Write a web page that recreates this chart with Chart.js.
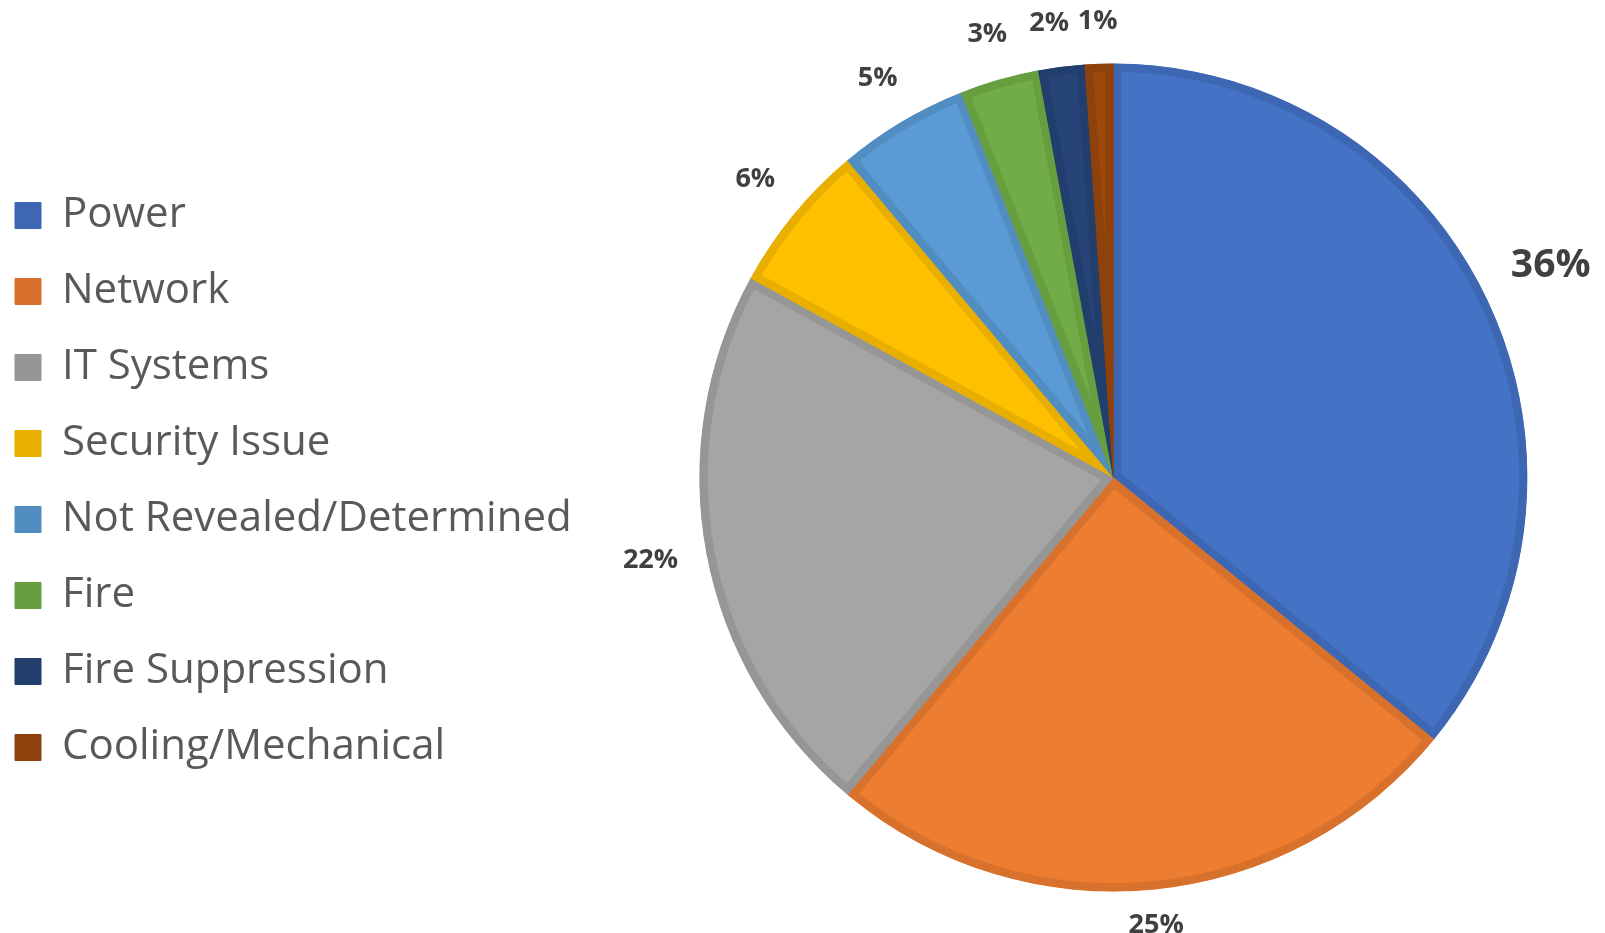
<!DOCTYPE html>
<html>
<head>
<meta charset="utf-8">
<title>Outage causes</title>
<script src="https://cdn.jsdelivr.net/npm/chart.js@4.4.0/dist/chart.umd.min.js"></script>
<style>
  html, body { margin: 0; padding: 0; background: #fff; }
  #chart { display: block; }
</style>
</head>
<body>
<canvas id="chart" width="1605" height="933"></canvas>
<script>
'use strict';

// share of outages by cause (labels are rounded)
const categories = ['Power', 'Network', 'IT Systems', 'Security Issue',
  'Not Revealed/Determined', 'Fire', 'Fire Suppression', 'Cooling/Mechanical'];
const shares = [35.9, 25.2, 21.9, 5.9, 5.1, 3.1, 1.8, 1.1];

const fillColors = ['#4472C4', '#ED7D31', '#A5A5A5', '#FFC000', '#5B9BD5', '#70AD47', '#264478', '#9E480E'];
const edgeColors = ['#3D67B3', '#D8712B', '#969696', '#E8AE00', '#528DC2', '#669E40', '#223E6D', '#8E410C'];

const fontFamily = '"Open Sans", "Noto Sans", sans-serif';
const labelGap = 28;
const labelLift = 4;
const pieShiftX = 40;   // extra space between legend and pie

// push the plot area right a little, the pie sits off-centre in the original
const pieSpacer = {
  id: 'pieSpacer',
  afterLayout(chart) {
    chart.chartArea.left += pieShiftX;
    chart.chartArea.width -= pieShiftX;
  }
};

// percent labels outside the pie, nudged counter-clockwise when they would collide
const outsideLabels = {
  id: 'outsideLabels',
  afterDatasetsDraw(chart) {
    const ctx = chart.ctx;
    const arcs = chart.getDatasetMeta(0).data;
    const total = shares.reduce((a, b) => a + b, 0);
    let prev = null;
    ctx.save();
    ctx.fillStyle = '#404040';
    ctx.textAlign = 'center';
    ctx.textBaseline = 'middle';
    for (let i = arcs.length - 1; i >= 0; i--) {
      const p = arcs[i].getProps(['x', 'y', 'startAngle', 'endAngle', 'outerRadius'], true);
      const size = i === 0 ? 39 : 27;
      ctx.font = 'bold ' + size + 'px ' + fontFamily;
      const text = Math.round(shares[i] / total * 100) + '%';
      const w = ctx.measureText(text).width;
      const h = size * 0.72;
      let angle = (p.startAngle + p.endAngle) / 2;
      let box;
      for (let n = 0; n < 80; n++) {
        const dx = Math.cos(angle);
        const dy = Math.sin(angle);
        const dist = p.outerRadius + labelGap + Math.abs(dx) * w / 2 + Math.abs(dy) * h / 2;
        box = {x: p.x + dx * dist, y: p.y + dy * dist - labelLift, w: w, h: h};
        if (!prev || Math.abs(box.x - prev.x) > (box.w + prev.w) / 2 + 8 ||
            Math.abs(box.y - prev.y) > (box.h + prev.h) / 2 + 4) {
          break;
        }
        angle -= 0.004;
      }
      ctx.fillText(text, box.x, box.y);
      prev = box;
    }
    ctx.restore();
  }
};

function draw() {
  new Chart(document.getElementById('chart'), {
    type: 'pie',
    data: {
      labels: categories,
      datasets: [{
        data: shares,
        backgroundColor: fillColors,
        borderColor: edgeColors,
        borderWidth: 8,
        borderAlign: 'inner',
        hoverOffset: 0,
        radius: 414,
      }],
    },
    options: {
      responsive: false,
      animation: false,
      layout: {
        padding: {left: -19, right: 0, top: 63, bottom: 41},
      },
      plugins: {
        tooltip: {enabled: false},
        legend: {
          position: 'left',
          align: 'center',
          // empty title only nudges the items down a few pixels
          title: {display: true, text: '', padding: 0, font: {size: 8, lineHeight: 1}},
          labels: {
            boxWidth: 26,
            boxHeight: 26,
            padding: 34,
            color: '#595959',
            font: {family: fontFamily, size: 42},
            generateLabels(chart) {
              const items = Chart.overrides.doughnut.plugins.legend.labels.generateLabels(chart);
              items.forEach((item, i) => {
                item.fillStyle = edgeColors[i];
                item.strokeStyle = edgeColors[i];
                item.lineWidth = 1;
              });
              return items;
            },
          },
        },
      },
    },
    plugins: [pieSpacer, outsideLabels],
  });
}

Promise.all([
  document.fonts.load('42px "Open Sans"'),
  document.fonts.load('bold 27px "Open Sans"'),
]).then(draw, draw);
</script>
</body>
</html>
